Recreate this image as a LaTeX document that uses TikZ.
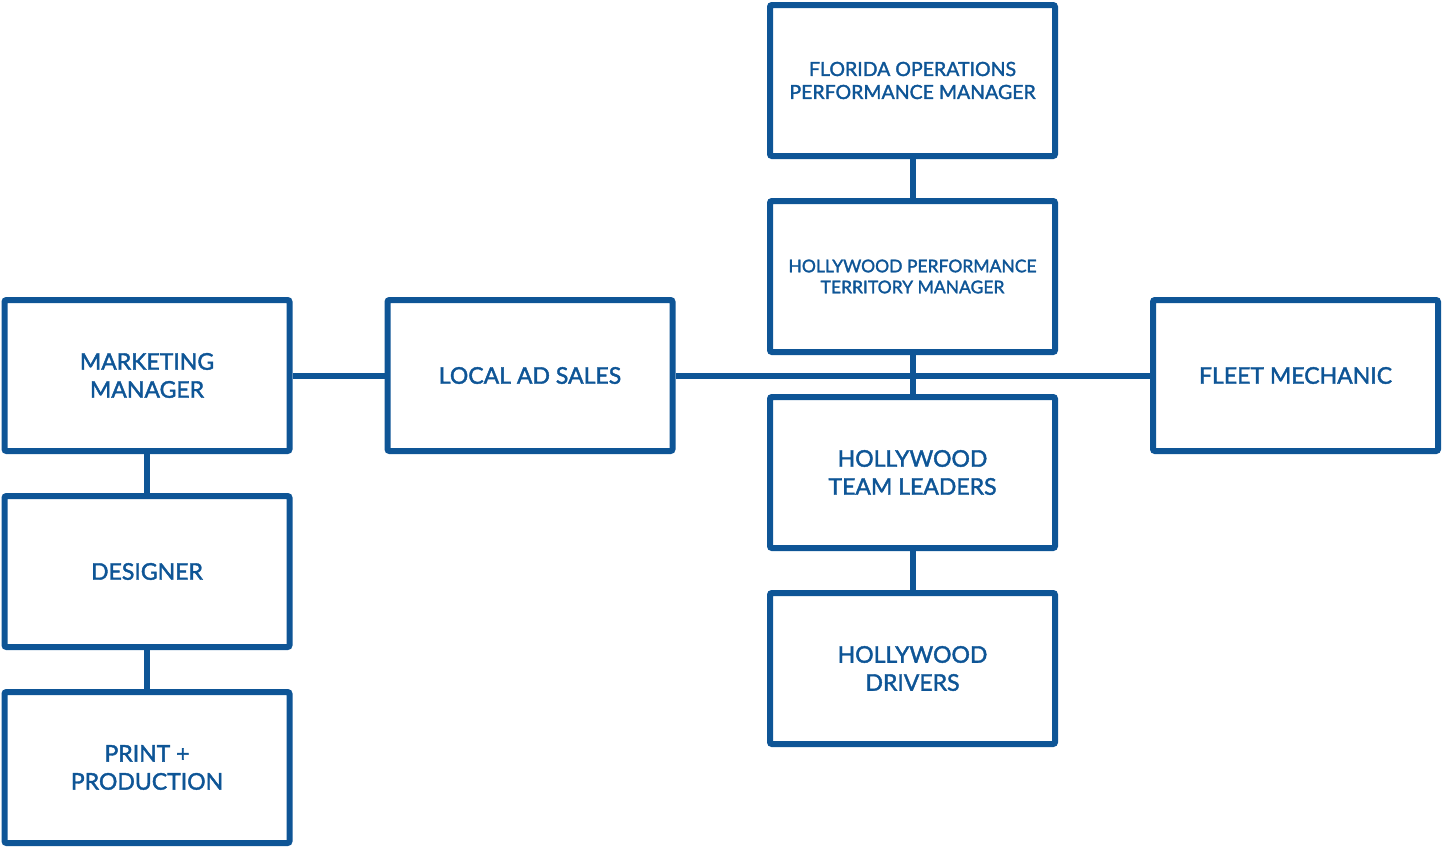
\documentclass[tikz,border=0pt]{standalone}
\usepackage{fontspec}
\setmainfont{Lato}[FakeBold=1.8]
\usepackage{xcolor}
\usetikzlibrary{positioning}

\definecolor{orgblue}{RGB}{14,85,150}

\begin{document}
\begin{tikzpicture}[
  x=1pt, y=-1pt,
  node distance=39pt and 92pt,
  role/.style={rectangle, draw=orgblue, line width=6pt, rounded corners=2pt,
               minimum width=285pt, minimum height=151pt, align=center,
               text=orgblue, font=\fontsize{23}{28}\selectfont},
  small/.style={font=\fontsize{19.5}{23}\selectfont},
  tiny/.style={font=\fontsize{17.5}{21}\selectfont},
  link/.style={draw=orgblue, line width=6pt},
]
  \useasboundingbox (0,0) rectangle (1442,846);

  % left column
  \node[role] (MM) at (147,375.5) {MARKETING\\MANAGER};
  \node[role, below=of MM] (DS) {DESIGNER};
  \node[role, below=of DS] (PP) {PRINT +\\PRODUCTION};

  % middle row
  \node[role, right=of MM] (AD) {LOCAL AD SALES};
  \node[role, small] (FL) at (912.5,80.5) {FLORIDA OPERATIONS\\PERFORMANCE MANAGER};
  \node[role, tiny, below=of FL] (TM) {HOLLYWOOD PERFORMANCE\\TERRITORY MANAGER};
  \node[role, below=of TM] (TL) {HOLLYWOOD\\TEAM LEADERS};
  \node[role, below=of TL] (DR) {HOLLYWOOD\\DRIVERS};
  \node[role] (FM) at (1295.5,375.5) {FLEET MECHANIC};

  \draw[link] (FL) -- (TM);
  \draw[link] (TM) -- (TL);
  \draw[link] (TL) -- (DR);
  \draw[link] (MM) -- (DS);
  \draw[link] (DS) -- (PP);
  \draw[link] (MM) -- (AD);
  \draw[link] (AD) -- (FM);
\end{tikzpicture}
\end{document}
